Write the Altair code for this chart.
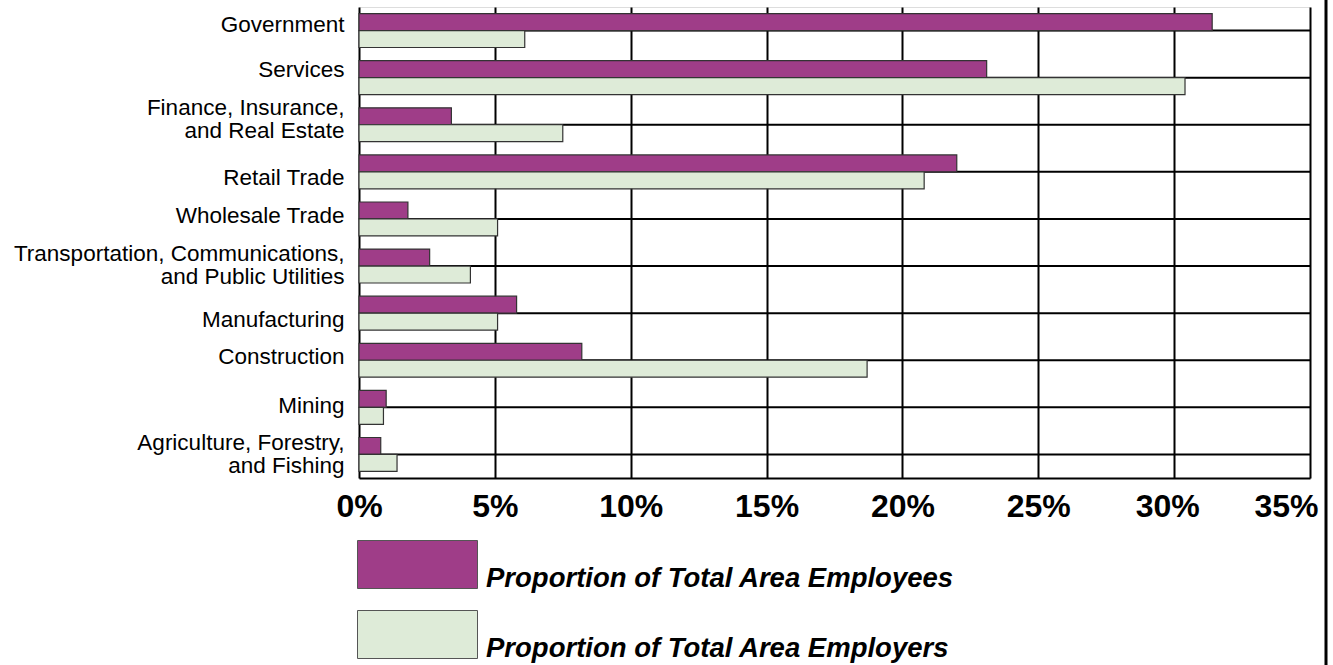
import altair as alt
import pandas as pd

categories = [
    "Government",
    "Services",
    "Finance, Insurance,\nand Real Estate",
    "Retail Trade",
    "Wholesale Trade",
    "Transportation, Communications,\nand Public Utilities",
    "Manufacturing",
    "Construction",
    "Mining",
    "Agriculture, Forestry,\nand Fishing",
]
employees = [31.4, 23.1, 3.4, 22.0, 1.8, 2.6, 5.8, 8.2, 1.0, 0.8]
employers = [6.1, 30.4, 7.5, 20.8, 5.1, 4.1, 5.1, 18.7, 0.9, 1.4]
series_names = ["Proportion of Total Area Employees", "Proportion of Total Area Employers"]
x_ticks = [0, 0.05, 0.10, 0.15, 0.20, 0.25, 0.30, 0.35]

rows = []
for c, a, b in zip(categories, employees, employers):
    rows.append({"category": c, "series": series_names[0], "value": a / 100})
    rows.append({"category": c, "series": series_names[1], "value": b / 100})
df = pd.DataFrame(rows)
cat_df = pd.DataFrame({"category": categories})

W, H = 951, 471
PURPLE = "#9F3D88"
GREEN = "#DEEBD8"

# per-label vertical nudges (style only)
label_nudge = {"Government": -6, "Services": -8, "Finance": -17, "Retail": 6, "Wholesale": -3,
               "Transportation": -12, "Manufacturing": 7, "Construction": -3, "Mining": -1,
               "Agriculture": -11}
expr = "0"
for k, v in reversed(list(label_nudge.items())):
    expr = f"indexof(datum.value, '{k}') >= 0 ? {v} : ({expr})"

y_scale = alt.Scale(domain=categories, paddingInner=0.28, paddingOuter=0.14)
x_scale = alt.Scale(domain=[0, 0.35], nice=False)

bars = alt.Chart(df).mark_bar(stroke="#333333", strokeWidth=1.2).encode(
    y=alt.Y("category:N", scale=y_scale, sort=categories,
            axis=alt.Axis(title=None, ticks=False, domain=False, grid=False,
                          labelFont="Liberation Sans", labelFontSize=22.5, labelColor="black",
                          labelPadding=15, labelLimit=500, labelLineHeight=23,
                          labelExpr="split(datum.label, '\\n')",
                          labelOffset=alt.ExprRef(expr))),
    x=alt.X("value:Q", scale=x_scale,
            axis=alt.Axis(title=None, values=x_ticks, format=".0%", ticks=False,
                          grid=True, gridColor="black", gridWidth=2, gridOpacity=1,
                          domain=True, domainColor="black", domainWidth=2,
                          labelFont="Liberation Sans", labelFontSize=32, labelFontWeight="bold",
                          labelColor="black", labelPadding=13, labelFlush=False,
                          labelOffset=alt.ExprRef("datum.value >= 0.349 ? -24 : (datum.value >= 0.299 ? -7 : 0)"))),
    yOffset=alt.YOffset("series:N", sort=series_names, scale=alt.Scale(paddingInner=0, paddingOuter=0)),
    color=alt.Color("series:N", sort=series_names,
                    scale=alt.Scale(domain=series_names, range=[PURPLE, GREEN]),
                    legend=alt.Legend(title=None, orient="none", legendX=34, legendY=533,
                                      direction="vertical", padding=0,
                                      symbolType="M-2.5,-1H2.5V1H-2.5Z", symbolSize=2304,
                                      symbolStrokeColor="#555555", symbolStrokeWidth=1,
                                      symbolOpacity=1,
                                      labelFont="Liberation Sans", labelFontSize=27.5,
                                      labelFontWeight="bold", labelFontStyle="italic",
                                      labelColor="black", labelOffset=44, labelLimit=800,
                                      labelBaseline="top", rowPadding=16)),
)

hrules = alt.Chart(cat_df).mark_rule(color="black", strokeWidth=2).encode(
    y=alt.Y("category:N", scale=y_scale, sort=categories),
    x=alt.datum(0, scale=x_scale),
    x2=alt.datum(0.35),
)

border = alt.Chart(pd.DataFrame({"b": [0]})).mark_rule(color="black", strokeWidth=3, clip=False).encode(
    x=alt.value(967), y=alt.value(-7), y2=alt.value(658)
)

chart = alt.layer(hrules, bars, border).properties(
    width=W, height=H,
    autosize=alt.AutoSizeParams(type="none"),
    padding={"left": 359, "top": 7, "right": 1333 - 359 - W, "bottom": 665 - 7 - H},
).configure_view(stroke=None).configure(background="white")

chart.save("out.html", embed_options={"renderer": "svg", "actions": False})
